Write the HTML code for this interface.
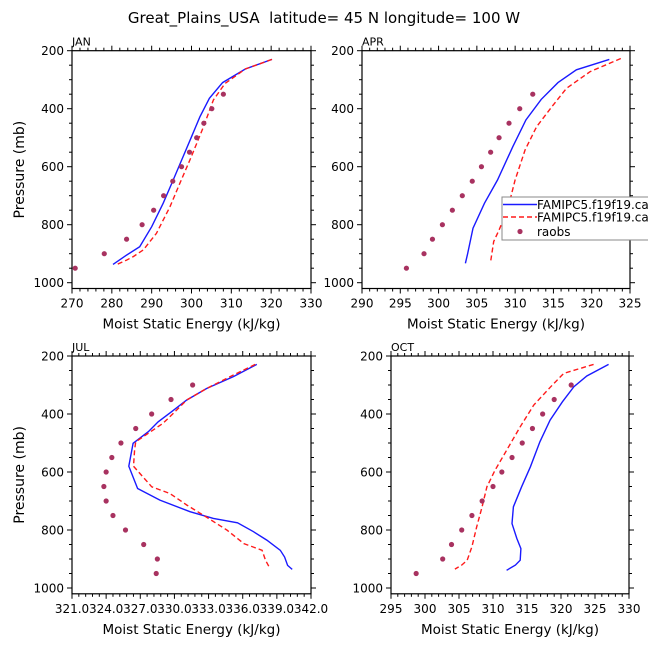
<!DOCTYPE html>
<html><head><meta charset="utf-8">
<style>
html,body{margin:0;padding:0;background:#fff;}
svg{display:block;font-family:"DejaVu Sans","Liberation Sans",sans-serif;}
</style></head>
<body>
<svg id="chart" width="648" height="649" viewBox="0 0 648 649">
<text x="324" y="23" font-size="15" text-anchor="middle" fill="#000" style="white-space:pre">Great_Plains_USA  latitude= 45 N longitude= 100 W</text>
</svg>
<script>
// ---- data ----
const janBlueX=[320.2,313.5,307.8,304.5,302.1,300,297.9,295.4,292.9,290,287,283.7,280.3];
const janBlueP=[230,263,310,364,428,497,565,646,726,807,876,905,937];
const janRedX=[320.2,313.5,308.4,305.5,303,301.3,299.6,297.1,294.6,291.2,287.9,285.4,283.7,281.3];
const janRedP=[230,263,313,370,462,520,577,657,738,830,887,910,922,937];
const janObsX=[270.8,278.1,283.7,287.6,290.5,293,295.3,297.5,299.5,301.3,303.1,305.1,308];
const janObsP=[950,900,850,800,750,700,650,600,550,500,450,400,350];

const aprBlueX=[322.3,318,315.6,313.4,311.4,309.7,307.7,306,304.5,303.8,303.5];
const aprBlueP=[230,266,310,368,439,531,646,726,812,899,933];
const aprRedX=[323.8,319.8,316.7,314.8,312.8,311.3,310,309,307.9,307.2,306.8];
const aprRedP=[227,272,330,393,462,542,646,749,818,858,928];
const aprObsX=[295.8,298.1,299.2,300.5,301.8,303.1,304.4,305.6,306.8,307.9,309.2,310.6,312.3];
const aprObsP=[950,900,850,800,750,700,650,600,550,500,450,400,350];

const julBlueX=[337.24,335.18,332.83,331.07,329.75,328.57,327.7,326.37,325.99,326.76,328.72,331.37,333.42,335.54,336.95,338.12,339.3,339.68,339.94,340.35];
const julBlueP=[229,271,312,352,392,427,461,501,580,657,697,737,760,775,806,835,870,893,922,936];
const julRedX=[337.1,334.9,332.83,331.07,329.9,329,326.6,326.5,326.4,328,329.6,331.1,332.8,334.6,336.1,337.7,338,338.4];
const julRedP=[229,271,312,352,398,432,496,524,580,651,674,714,755,800,847,870,904,933];
const julObsX=[328.4,328.5,327.3,325.7,324.6,324,323.8,324,324.5,325.3,326.6,328,329.7,331.6];
const julObsP=[950,900,850,800,750,700,650,600,550,500,450,400,350,300];

const octBlueX=[327,323.8,321.9,320.2,318.4,316.9,315.5,314.2,313,312.8,313.5,314.1,314,313.3,312];
const octBlueP=[229,269,306,358,421,496,582,651,720,778,829,864,904,921,939];
const octRedX=[324.8,320.4,318.5,316,314,312,310.3,309.1,308.4,307.6,306.9,306.2,305.4,304.4];
const octRedP=[229,260,306,369,444,525,594,651,720,789,858,904,921,935];
const octObsX=[298.7,302.6,303.9,305.4,306.9,308.4,310,311.3,312.8,314.3,315.8,317.3,319,321.5];
const octObsP=[950,900,850,800,750,700,650,600,550,500,450,400,350,300];

const janXTicks=[270,280,290,300,310,320,330];
const aprXTicks=[290,295,300,305,310,315,320,325];
const julXTicks=[321,324,327,330,333,336,339,342];
const julXLabels=["321.0","324.0","327.0","330.0","333.0","336.0","339.0","342.0"];
const octXTicks=[295,300,305,310,315,320,325,330];
const pTicks=[200,400,600,800,1000];

const NS="http://www.w3.org/2000/svg";
const svg=document.getElementById('chart');
function mk(tag,attrs,parent){const e=document.createElementNS(NS,tag);for(const k in attrs)e.setAttribute(k,attrs[k]);(parent||svg).appendChild(e);return e;}

function panel(cfg){
  const g=mk('g',{});
  
  
  const {x0,x1,y0,xmin,xmax,minorX}=cfg;
  const py0=y0, pyScale=0.29;
  const sx=v=>x0+(v-xmin)/(xmax-xmin)*(x1-x0);
  const sy=p=>py0+(p-200)*pyScale;
  const yb=sy(1020);
  const cid='clip-'+cfg.name;
  const cp=mk('clipPath',{id:cid},g);mk('rect',{x:x0,y:py0,width:x1-x0,height:yb-py0},cp);
  const tk=mk('g',{stroke:'#000','stroke-width':1},g);
  
  
  for(let v=xmin;v<=xmax+1e-9;v+=minorX){
    const X=sx(v);const major=cfg.xTicks.some(t=>Math.abs(t-v)<1e-6);const L=major?5:3;
    mk('line',{x1:X,y1:yb,x2:X,y2:yb+L},tk);mk('line',{x1:X,y1:py0,x2:X,y2:py0-L},tk);
  }
  for(let p=200;p<=1000;p+=50){
    const Y=sy(p);const L=(p%200===0)?5:3;
    mk('line',{x1:x0,y1:Y,x2:x0-L,y2:Y},tk);mk('line',{x1:x1,y1:Y,x2:x1+L,y2:Y},tk);
  }
  mk('rect',{x:x0,y:py0,width:x1-x0,height:yb-py0,fill:'none',stroke:'#000','stroke-width':1.2},g);
  cfg.xTicks.forEach((t,i)=>{
    const e=mk('text',{x:sx(t),y:yb+19,'font-size':12,'text-anchor':'middle'},g);
    e.textContent=cfg.xLabels?cfg.xLabels[i]:String(t);
    
    
  });
  pTicks.forEach(p=>{
    const e=mk('text',{x:x0-8,y:sy(p)+4.5,'font-size':12,'text-anchor':'end'},g);
    e.textContent=String(p);
    
    
  });
  const t=mk('text',{x:x0,y:py0-5,'font-size':11},g);t.textContent=cfg.label;
  
  
  if(cfg.xTitle){const e=mk('text',{x:(x0+x1)/2,y:yb+40,'font-size':13.5,'text-anchor':'middle'},g);e.textContent='Moist Static Energy (kJ/kg)';
    
    }
  if(cfg.yTitle){const cy=(py0+yb)/2;const e=mk('text',{x:24,y:cy,'font-size':14,'text-anchor':'middle',transform:`rotate(-90 24 ${cy})`},g);e.textContent='Pressure (mb)';
    
    }
  const sg=mk('g',{'clip-path':`url(#${cid})`},g);
  const pts=(xs,ps)=>xs.map((v,i)=>sx(v).toFixed(1)+','+sy(ps[i]).toFixed(1)).join(' ');
  const b=mk('polyline',{points:pts(cfg.bx,cfg.bp),fill:'none',stroke:'#1a1aff','stroke-width':1.4},sg);
  
  
  const r=mk('polyline',{points:pts(cfg.rx,cfg.rp),fill:'none',stroke:'#ff1a1a','stroke-width':1.4,'stroke-dasharray':'5,3'},sg);
  
  
  cfg.ox.forEach((v,i)=>{
    const c=mk('circle',{cx:sx(v),cy:sy(cfg.op[i]),r:2.6,fill:'#a83260'},sg);
    
    
  });
}

panel({name:'jan',label:'JAN',x0:72,x1:311,y0:50.7,xmin:270,xmax:330,minorX:2,xTicks:janXTicks,xTitle:true,yTitle:true,
  bx:janBlueX,bp:janBlueP,rx:janRedX,rp:janRedP,ox:janObsX,op:janObsP});
panel({name:'apr',label:'APR',x0:362,x1:630,y0:50.7,xmin:290,xmax:325,minorX:1,xTicks:aprXTicks,xTitle:true,yTitle:false,
  bx:aprBlueX,bp:aprBlueP,rx:aprRedX,rp:aprRedP,ox:aprObsX,op:aprObsP});
panel({name:'jul',label:'JUL',x0:72,x1:311,y0:356,xmin:321,xmax:342,minorX:0.6,xTicks:julXTicks,xLabels:julXLabels,xTitle:true,yTitle:true,
  bx:julBlueX,bp:julBlueP,rx:julRedX,rp:julRedP,ox:julObsX,op:julObsP});
panel({name:'oct',label:'OCT',x0:391,x1:629,y0:356,xmin:295,xmax:330,minorX:1,xTicks:octXTicks,xTitle:true,yTitle:false,
  bx:octBlueX,bp:octBlueP,rx:octRedX,rp:octRedP,ox:octObsX,op:octObsP});

const lg=mk('g',{});


mk('rect',{x:502,y:197,width:160,height:43,fill:'#fff',stroke:'#888','stroke-width':1},lg);
mk('line',{x1:503,y1:204.5,x2:537,y2:204.5,stroke:'#1a1aff','stroke-width':1.4},lg);
mk('line',{x1:503,y1:217,x2:537,y2:217,stroke:'#ff1a1a','stroke-width':1.4,'stroke-dasharray':'5,3'},lg);
mk('circle',{cx:520,cy:231.5,r:2.6,fill:'#a83260'},lg);
[['FAMIPC5.f19f19.cam5',209,'legend-entry-model-1'],['FAMIPC5.f19f19.cam4',221.5,'legend-entry-model-2'],['raobs',236,'legend-entry-raobs']].forEach(a=>{
  const e=mk('text',{x:537,y:a[1],'font-size':12},lg);e.textContent=a[0];
  
  
});
</script>
</body></html>
